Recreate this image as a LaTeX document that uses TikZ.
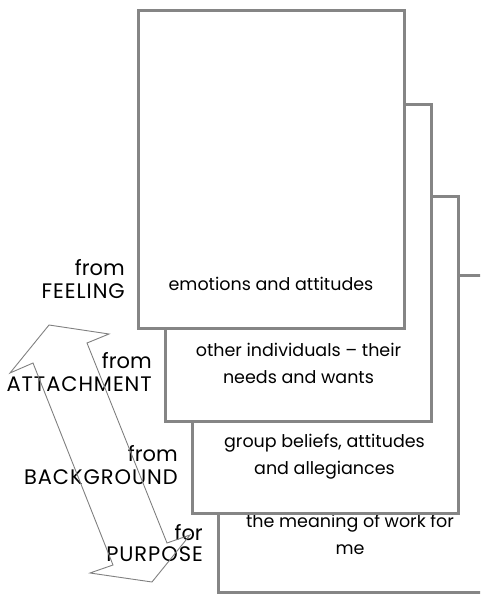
\documentclass[tikz,border=0pt]{standalone}
\usepackage{fontspec}
\setmainfont{Poppins}
\newcommand\capsline[1]{{\addfontfeatures{LetterSpace=4.5}#1}}
\begin{document}
\begin{tikzpicture}[x=1pt,y=-1pt,
  layer/.style={draw=black!48, fill=white, line width=3pt, minimum width=266pt,
    minimum height=317pt, anchor=north west, inner sep=0pt, outer sep=0pt},
  boxtext/.style={align=center, font=\fontsize{17.5}{27}\selectfont, inner sep=0pt},
  sidelabel/.style={align=right, anchor=east, font=\fontsize{21}{23}\selectfont, inner sep=0pt},
  cycle arrow/.style={draw=black!50, line width=0.9pt, line join=miter}]
\useasboundingbox (0,0) rectangle (480,594);
\clip (0,0) rectangle (480,594);

% stacked layers, deepest first
\node[layer] (work) at (218,275) {};
\node[boxtext] (worktext) at (350,534) {the meaning of work for\\me};
\node[layer] (group) at (192,196) {};
\node[boxtext] (grouptext) at (324.5,456.5) {group beliefs, attitudes\\and allegiances};
\node[layer] (others) at (165,104) {};
\node[boxtext] (otherstext) at (298.5,363.5) {other individuals -- their\\needs and wants};
\node[layer] (self) at (138,11) {};
\node[boxtext] (selftext) at (271,284) {emotions and attitudes};

% side labels
\node[sidelabel] (feeling) at (125,279) {from\\\capsline{FEELING}};
\node[sidelabel] (attach) at (152,372) {from\\\capsline{ATTACHMENT}};
\node[sidelabel] (backgr) at (178,465) {from\\\capsline{BACKGROUND}};
\node[sidelabel, font=\fontsize{21}{21}\selectfont] (purpose) at (203,543) {for\\\capsline{PURPOSE}};

% double-headed outline arrow
\draw[cycle arrow] (49,325) -- (109,334) -- (87,343) -- (167,543) -- (190,535)
  -- (152,582) -- (90,573) -- (113,565) -- (33,363) -- (10,373) -- cycle;
\end{tikzpicture}
\end{document}
